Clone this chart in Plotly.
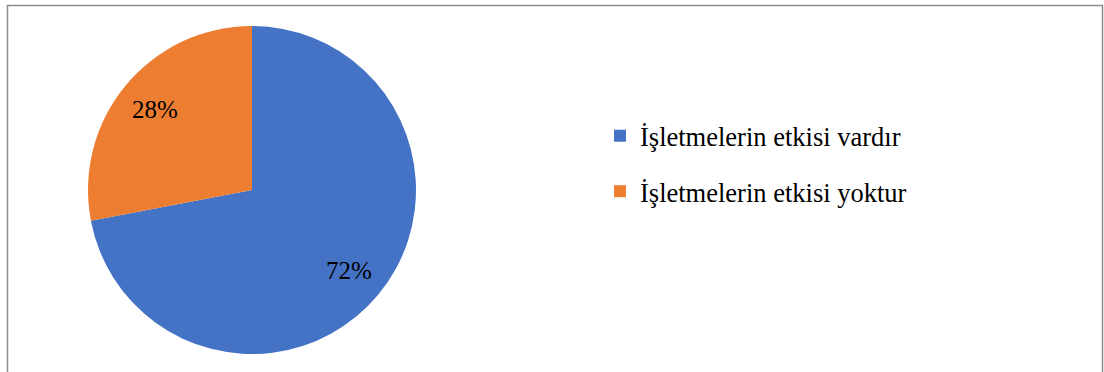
import math
import plotly.graph_objects as go

categories = ["İşletmelerin etkisi vardır", "İşletmelerin etkisi yoktur"]
values = [72, 28]
colors = ["#4472C4", "#ED7D31"]

W, H = 1104, 372
FONT = "Liberation Serif, Times New Roman, serif"
CX, CY, R = 252, 190, 164

fig = go.Figure()
fig.add_trace(go.Pie(
    labels=categories, values=values, sort=False, direction="clockwise", rotation=0,
    marker=dict(colors=colors, line=dict(width=0)),
    textinfo="none",
    domain=dict(x=[(CX - R) / W, (CX + R) / W], y=[1 - (CY + R) / H, 1 - (CY - R) / H]),
    showlegend=False, hoverinfo="label+percent",
))

# percentage labels placed along each slice's bisector
total = sum(values)
cum = 0
for v in values:
    mid = (cum + v / 2) / total
    cum += v
    ang = math.radians(90 - 360 * mid)
    rr = 0.77 * R
    px = CX + rr * math.cos(ang)
    py = CY - rr * math.sin(ang)
    fig.add_annotation(x=px / W, y=1 - py / H, xref="paper", yref="paper",
                       xanchor="center", yanchor="middle",
                       text=f"{round(100 * v / total)}%", showarrow=False,
                       font=dict(family=FONT, size=25, color="black"))

for i, (cat, col) in enumerate(zip(categories, colors)):
    fig.add_trace(go.Scatter(
        x=[None], y=[None], mode="markers", name=cat, legendgroup=f"g{i}",
        marker=dict(symbol="square", size=12, color=col),
        showlegend=True,
    ))

fig.add_shape(type="rect", xref="paper", yref="paper",
              x0=7.5 / W, x1=1102.5 / W, y0=-0.2, y1=1 - 5.5 / H,
              line=dict(color="#8C8C8C", width=1.5), fillcolor="rgba(0,0,0,0)")

fig.update_layout(
    width=W, height=H,
    margin=dict(l=0, r=0, t=0, b=0),
    paper_bgcolor="white", plot_bgcolor="white",
    xaxis=dict(visible=False), yaxis=dict(visible=False),
    legend=dict(x=600 / W, xanchor="left", y=1 - 112 / H, yanchor="top",
                font=dict(family=FONT, size=26.5, color="black"),
                tracegroupgap=18, bgcolor="rgba(0,0,0,0)"),
)
fig.write_html("out.html")
